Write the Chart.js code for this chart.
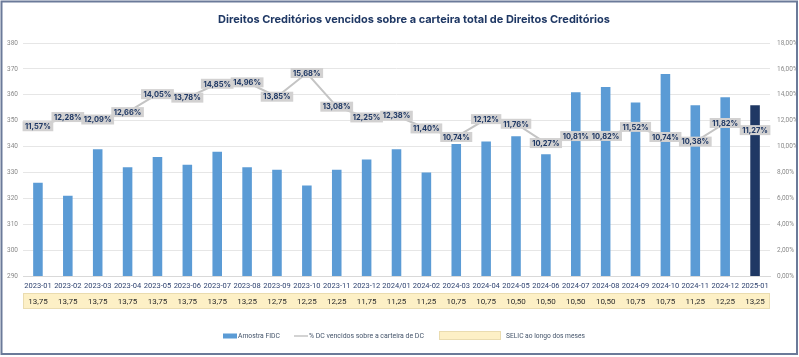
<!DOCTYPE html>
<html>
<head>
<meta charset="utf-8">
<script src="https://cdn.jsdelivr.net/npm/chart.js@4.4.1/dist/chart.umd.min.js"></script>
<style>
html,body{margin:0;padding:0;background:#fff;}
#c{display:block;}
</style>
</head>
<body>
<canvas id="c" width="799" height="357"></canvas>
<script>
const TITLE = 'Direitos Creditórios vencidos sobre a carteira total de Direitos Creditórios';
const categories = ['2023-01','2023-02','2023-03','2023-04','2023-05','2023-06','2023-07','2023-08','2023-09','2023-10','2023-11','2023-12','2024/01','2024-02','2024-03','2024-04','2024-05','2024-06','2024-07','2024-08','2024-09','2024-10','2024-11','2024-12','2025-01'];
const amostraFIDC = [326,321,339,332,336,333,338,332,331,325,331,335,339,330,341,342,344,337,361,363,357,368,356,359,356];
const pctVencidos = [11.57,12.28,12.09,12.66,14.05,13.78,14.85,14.96,13.85,15.68,13.08,12.25,12.38,11.40,10.74,12.12,11.76,10.27,10.81,10.82,11.52,10.74,10.38,11.82,11.27];
const selic = ['13,75','13,75','13,75','13,75','13,75','13,75','13,75','13,25','12,75','12,25','12,25','11,75','11,25','11,25','10,75','10,75','10,50','10,50','10,50','10,50','10,75','10,75','11,25','12,25','13,25'];
const leftTicks = {min:290, max:380, step:10};
const rightTicks = {min:0, max:18, step:2};
const legendLabels = ['Amostra FIDC','% DC vencidos sobre a carteira de DC','SELIC ao longo dos meses'];

const FONT = 'Inter, "Noto Sans", sans-serif';
const FONT2 = 'Roboto, "Liberation Sans", sans-serif';
const BLUE = '#5b9bd5', NAVY = '#1f3864', LINE = '#c4c4c4', YELLOW = '#fdf0c6', YBORDER = '#eadcb0';
const fmtPct = v => v.toFixed(2).replace('.', ',') + '%';

const barColors = amostraFIDC.map((v,i)=> i === amostraFIDC.length-1 ? NAVY : BLUE);

function fitText(ctx, text, weight, family, width){
  ctx.font = weight + ' 10px ' + family;
  const w = ctx.measureText(text).width;
  ctx.font = weight + ' ' + (10*width/w).toFixed(2) + 'px ' + family;
}

const decor = {
  id:'decor',
  afterDatasetsDraw(chart){
    const ctx = chart.ctx;
    const meta = chart.getDatasetMeta(1);
    ctx.save();
    ctx.font = 'bold 7.5px ' + FONT;
    ctx.textAlign = 'center';
    ctx.textBaseline = 'middle';
    meta.data.forEach((pt,i)=>{
      const t = fmtPct(pctVencidos[i]);
      const w = ctx.measureText(t).width + 5;
      const h = 10;
      ctx.fillStyle = '#d2d1d1';
      ctx.fillRect(pt.x - w/2, pt.y - h/2, w, h);
      ctx.fillStyle = NAVY;
      ctx.fillText(t, pt.x, pt.y + 0.5);
    });
    ctx.restore();
  },
  afterDraw(chart){
    const ctx = chart.ctx;
    const xs = chart.scales.x;
    const area = chart.chartArea;
    ctx.save();
    // title
    fitText(ctx, TITLE, 'bold', FONT, 392);
    ctx.fillStyle = NAVY;
    ctx.textAlign = 'center';
    ctx.textBaseline = 'middle';
    ctx.fillText(TITLE, 414, 20);
    // SELIC row
    const top = 293, h = 16;
    ctx.fillStyle = YELLOW;
    ctx.fillRect(area.left, top, area.right - area.left, h);
    ctx.strokeStyle = YBORDER;
    ctx.lineWidth = 1;
    ctx.strokeRect(area.left + 0.5, top + 0.5, area.right - area.left - 1, h - 1);
    ctx.font = '8px ' + FONT2;
    ctx.fillStyle = '#2b2b2b';
    selic.forEach((s,i)=>{
      ctx.fillText(s, xs.getPixelForValue(i), top + h/2 + 0.5);
    });
    // legend
    const ly = 336;
    ctx.textAlign = 'left';
    ctx.fillStyle = BLUE;
    ctx.fillRect(223, ly - 2.5, 14, 5);
    ctx.fillStyle = '#44546a';
    fitText(ctx, legendLabels[0], 'normal', FONT2, 42);
    ctx.fillText(legendLabels[0], 238, ly);
    ctx.strokeStyle = LINE;
    ctx.lineWidth = 1.5;
    ctx.beginPath(); ctx.moveTo(294, ly); ctx.lineTo(308, ly); ctx.stroke();
    ctx.fillStyle = '#44546a';
    fitText(ctx, legendLabels[1], 'normal', FONT2, 115);
    ctx.fillText(legendLabels[1], 309, ly);
    ctx.fillStyle = YELLOW;
    ctx.fillRect(439, ly - 5, 62, 9);
    ctx.strokeStyle = YBORDER;
    ctx.lineWidth = 1;
    ctx.strokeRect(439.5, ly - 4.5, 61, 8);
    ctx.fillStyle = '#44546a';
    fitText(ctx, legendLabels[2], 'normal', FONT2, 79);
    ctx.fillText(legendLabels[2], 506, ly);
    // frame
    ctx.strokeStyle = '#6b7a99';
    ctx.lineWidth = 2;
    ctx.strokeRect(1.5, 1.5, 795.5, 352.5);
    ctx.restore();
  }
};

new Chart(document.getElementById('c'), {
  data: {
    labels: categories,
    datasets: [
      {type:'bar', label: legendLabels[0], data: amostraFIDC, backgroundColor: barColors, yAxisID:'y', barPercentage:0.32, categoryPercentage:1, order:2},
      {type:'line', label: legendLabels[1], data: pctVencidos, borderColor: LINE, borderWidth:2, pointRadius:0, tension:0, yAxisID:'y1', order:1}
    ]
  },
  options: {
    responsive:false,
    animation:false,
    layout:{padding:{top:43, left:0, right:0, bottom:0}},
    plugins:{legend:{display:false}, title:{display:false}, tooltip:{enabled:false}},
    scales:{
      x:{
        grid:{display:false, drawTicks:false},
        border:{display:true, color:'#d9d9d9'},
        ticks:{font:{family:FONT2, size:7.5}, color:'#2f4370', padding:6, maxRotation:0, autoSkip:false},
        afterFit(s){ s.height = 81; }
      },
      y:{
        position:'left', min:leftTicks.min, max:leftTicks.max,
        grid:{color:'#e6e6e6', drawTicks:false},
        border:{display:false},
        ticks:{stepSize:leftTicks.step, font:{family:FONT2, size:6.5}, color:'#8a8a8a', padding:5},
        afterFit(s){ s.width = 23; }
      },
      y1:{
        position:'right', min:rightTicks.min, max:rightTicks.max,
        grid:{display:false, drawTicks:false},
        border:{display:false},
        ticks:{stepSize:rightTicks.step, font:{family:FONT2, size:6.5}, color:'#8a8a8a', padding:7, callback:v=>v.toFixed(2).replace('.',',')+'%'},
        afterFit(s){ s.width = 29; }
      }
    }
  },
  plugins:[decor]
});
</script>
</body>
</html>
